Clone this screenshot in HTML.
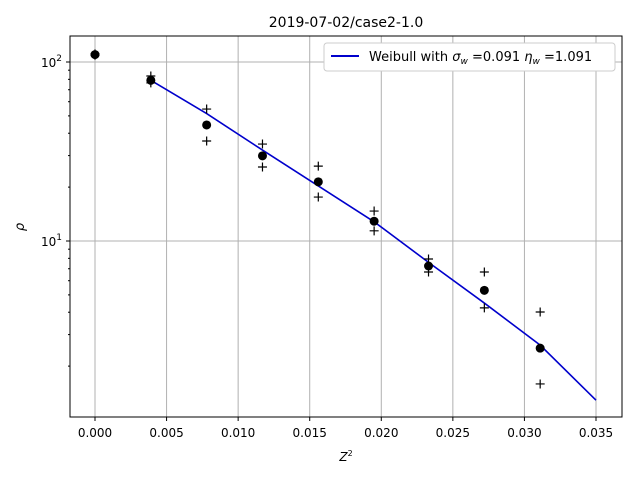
<!DOCTYPE html>
<html><head><meta charset="utf-8"><style>
body{margin:0;background:#fff}
text{font-family:"DejaVu Sans","Liberation Sans",sans-serif}
</style></head><body>
<svg id="chart" width="640" height="480" xmlns="http://www.w3.org/2000/svg">
<rect width="640" height="480" fill="#fff"/>
<text x="346" y="27" font-size="14" text-anchor="middle">2019-07-02/case2-1.0</text>
<g id="grid"></g>
<g id="marks"></g>
<rect x="70" y="36" width="552" height="381" fill="none" stroke="#000" stroke-width="1"/>
<g id="axes"></g>
<text x="346" y="461" font-size="12" text-anchor="middle"><tspan font-style="italic">Z</tspan><tspan font-size="8" dy="-5">2</tspan></text>
<text x="24" y="227" font-size="13" font-style="italic" text-anchor="middle" transform="rotate(-90 24 227)">ρ</text>
<g>
<rect x="324" y="43" width="291" height="28" rx="3" fill="#fff" stroke="#ccc"/>
<line x1="331" y1="56" x2="359" y2="56" stroke="#0000cc" stroke-width="2"/>
<text x="369" y="61" font-size="13">Weibull with <tspan font-style="italic">σ</tspan><tspan font-size="9" dy="3" font-style="italic">w</tspan><tspan dy="-3"> =0.091 </tspan><tspan font-style="italic">η</tspan><tspan font-size="9" dy="3" font-style="italic">w</tspan><tspan dy="-3"> =1.091</tspan></text>
</g>
</svg>
<script>
const xs = [0, 0.0039, 0.0078, 0.0117, 0.0156, 0.0195, 0.0233, 0.0272, 0.0311];
const means = [110, 79, 44.5, 29.9, 21.4, 12.9, 7.25, 5.3, 2.52];
const upper = [111, 83.5, 54.6, 34.8, 26.2, 14.7, 7.93, 6.71, 4.01];
const lower = [109, 76.4, 36.2, 25.9, 17.6, 11.4, 6.71, 4.23, 1.59];
const fitX = [0.0039, 0.0078, 0.0117, 0.0156, 0.0195, 0.0233, 0.0272, 0.0311, 0.035];
const fitY = [79, 51.5, 32.2, 20.3, 12.8, 7.6, 4.5, 2.62, 1.29];
const xTicks = [0, 0.005, 0.01, 0.015, 0.02, 0.025, 0.03, 0.035];
const xTickLabels = ["0.000","0.005","0.010","0.015","0.020","0.025","0.030","0.035"];
const yTicks = [10, 100];
const yMinor = [2,3,4,5,6,7,8,9,20,30,40,50,60,70,80,90];
const NS="http://www.w3.org/2000/svg";
function X(v){return 95+v*(596-95)/0.035;}
function Y(v){return 241-(Math.log10(v)-1)*179;}
function mk(tag,attrs,parent){const e=document.createElementNS(NS,tag);for(const k in attrs)e.setAttribute(k,attrs[k]);parent.appendChild(e);return e;}
const grid=document.getElementById('grid'),marks=document.getElementById('marks'),axes=document.getElementById('axes');
xTicks.forEach((t,i)=>{
  const g=mk('line',{x1:X(t),x2:X(t),y1:36,y2:417,stroke:'#b0b0b0','stroke-width':1},grid);
  
  
  const tk=mk('line',{x1:X(t),x2:X(t),y1:417,y2:421,stroke:'#000'},axes);
  
  
  const tx=mk('text',{x:X(t),y:437,'font-size':12,'text-anchor':'middle'},axes);
  tx.textContent=xTickLabels[i];
  
  
});
yTicks.forEach(t=>{
  const g=mk('line',{x1:70,x2:622,y1:Y(t),y2:Y(t),stroke:'#b0b0b0','stroke-width':1},grid);
  
  
  const tk=mk('line',{x1:66,x2:70,y1:Y(t),y2:Y(t),stroke:'#000'},axes);
  
  
  const tx=mk('text',{x:62,y:Y(t)+5,'font-size':12,'text-anchor':'end'},axes);
  tx.innerHTML='10<tspan font-size="9" dy="-6">'+Math.log10(t)+'</tspan>';
  
  
});
yMinor.forEach(t=>{
  const y=Y(t); if(y<36||y>417) return;
  const tk=mk('line',{x1:68,x2:70,y1:y,y2:y,stroke:'#000'},axes);
  
  
});
const pl=mk('polyline',{points:fitX.map((x,i)=>X(x)+','+Y(fitY[i])).join(' '),fill:'none',stroke:'#0000cc','stroke-width':1.6},marks);


function plus(x,y){
  const p=mk('path',{d:`M${x-4.5},${y}h9M${x},${y-4.5}v9`,stroke:'#000','stroke-width':1.2},marks);
  
  
}
xs.forEach((x,i)=>{
  plus(X(x),Y(upper[i])); plus(X(x),Y(lower[i]));
  const c=mk('circle',{cx:X(x),cy:Y(means[i]),r:4.5,fill:'#000'},marks);
  
  
});
</script>
</body></html>
